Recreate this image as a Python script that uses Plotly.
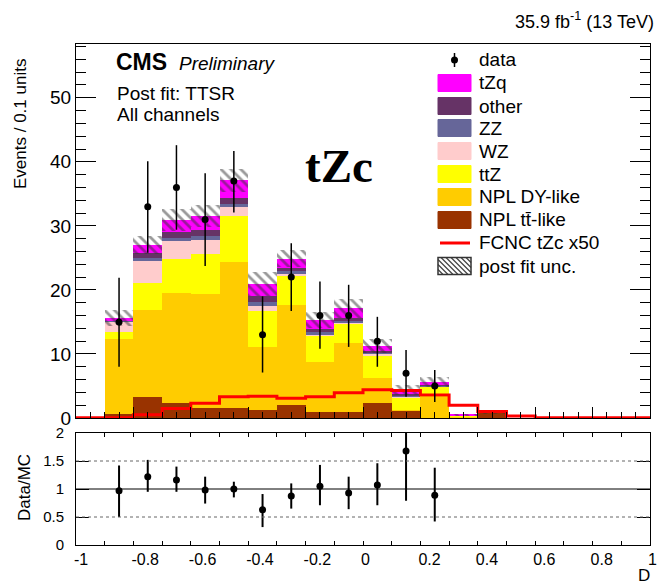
import plotly.graph_objects as go

# ---------------- data ----------------
bin_edges = [round(-1.0 + 0.1 * i, 1) for i in range(21)]

npl_tt = [0, 0.7, 3.3, 2.4, 1.5, 1.5, 1.25, 2.0, 0.9, 0.9, 2.3, 1.2, 0.0, 0.0, 0.85, 0, 0, 0, 0, 0]
npl_dy = [0, 11.6, 13.6, 17.1, 17.8, 22.8, 9.9, 15.7, 7.9, 10.8, 3.9, 0.1, 3.3, 0.2, 0, 0, 0, 0, 0, 0]
ttz    = [0, 1.2, 4.2, 5.3, 6.3, 7.2, 5.5, 4.6, 4.1, 3.0, 3.6, 1.9, 1.6, 0.25, 0, 0, 0, 0, 0, 0]
wz     = [0, 1.5, 3.4, 2.8, 2.2, 1.4, 0.9, 0.3, 0.2, 0.2, 0.2, 0.1, 0.05, 0, 0, 0, 0, 0, 0, 0]
zz     = [0, 0.15, 0.5, 0.5, 0.6, 0.5, 0.5, 0.3, 0.3, 0.3, 0.15, 0.15, 0.1, 0, 0, 0, 0, 0, 0, 0]
other  = [0, 0.15, 0.8, 1.0, 1.0, 0.9, 1.0, 0.5, 0.5, 0.4, 0.25, 0.35, 0.15, 0, 0, 0, 0, 0, 0, 0]
tzq    = [0, 0.3, 1.2, 1.8, 2.2, 2.8, 1.9, 1.5, 1.4, 1.5, 0.85, 0.55, 0.45, 0.05, 0.05, 0, 0, 0, 0, 0]
post_fit_unc = [0, 1.3, 1.4, 1.7, 1.7, 1.8, 1.9, 1.3, 1.2, 1.5, 1.05, 0.8, 0.8, 0.2, 0.2, 0, 0, 0, 0, 0]
fcnc_tzc_x50 = [0.05, 0.05, 0.5, 1.5, 2.3, 3.3, 3.4, 3.1, 3.3, 3.95, 4.4, 4.3, 3.6, 2.0, 1.0, 0.3, 0.05, 0.05, 0.05, 0.05]

data_counts = [0, 15, 33, 36, 31, 37, 13, 22, 16, 16, 12, 7, 5, 0, 0, 0, 0, 0, 0, 0]
data_err_up = [0, 6.9, 7.1, 6.6, 7.2, 4.7, 6.0, 5.3, 5.3, 4.8, 3.8, 3.6, 2.5, 0, 0, 0, 0, 0, 0, 0]
data_err_dn = [0, 7.0, 7.2, 6.6, 7.25, 4.9, 5.9, 5.3, 5.2, 4.9, 4.0, 3.7, 2.5, 0, 0, 0, 0, 0, 0, 0]

ratio_vals = [0, 0.97, 1.22, 1.16, 0.98, 1.0, 0.63, 0.875, 1.05, 0.93, 1.07, 1.68, 0.89, 0, 0, 0, 0, 0, 0, 0]
ratio_hi   = [0, 1.42, 1.52, 1.40, 1.22, 1.13, 0.91, 1.10, 1.43, 1.22, 1.46, 2.0, 1.38, 0, 0, 0, 0, 0, 0, 0]
ratio_lo   = [0, 0.5, 0.95, 0.95, 0.74, 0.85, 0.32, 0.65, 0.71, 0.64, 0.71, 0.79, 0.42, 0, 0, 0, 0, 0, 0, 0]

x_tick_vals = [-1, -0.8, -0.6, -0.4, -0.2, 0, 0.2, 0.4, 0.6, 0.8, 1]
x_tick_text = ["-1", "-0.8", "-0.6", "-0.4", "-0.2", "0", "0.2", "0.4", "0.6", "0.8", "1"]
ratio_tick_vals = [0, 0.5, 1, 1.5, 2]
ratio_tick_text = ["0", "0.5", "1", "1.5", "2"]

legend_labels = ["data", "tZq", "other", "ZZ", "WZ", "ttZ", "NPL DY-like",
                 "NPL tt\u0304-like", "FCNC tZc x50", "post fit unc."]

# ---------------- styles ----------------
FONT = "Liberation Sans, Arial, sans-serif"
stack = [  # bottom -> top
    ("NPL tt-like", npl_tt, "#993300"),
    ("NPL DY-like", npl_dy, "#FFCC00"),
    ("ttZ", ttz, "#FFFF00"),
    ("WZ", wz, "#FFCCCC"),
    ("ZZ", zz, "#666699"),
    ("other", other, "#663366"),
    ("tZq", tzq, "#FF00FF"),
]

centers = [round((bin_edges[i] + bin_edges[i + 1]) / 2, 3) for i in range(20)]
widths = [0.1] * 20

fig = go.Figure()

base = [0.0] * 20
for name, vals, col in stack:
    fig.add_trace(go.Bar(x=centers, y=vals, base=list(base), width=widths,
                         marker=dict(color=col, line=dict(width=0)),
                         name=name, showlegend=False, xaxis="x", yaxis="y"))
    base = [b + v for b, v in zip(base, vals)]
total = base

# hatched post-fit uncertainty
fig.add_trace(go.Bar(x=centers, y=[2 * u for u in post_fit_unc],
                     base=[t - u for t, u in zip(total, post_fit_unc)], width=widths,
                     marker=dict(color="rgba(0,0,0,0)", line=dict(width=0),
                                 pattern=dict(shape="\\", fgcolor="#333333",
                                              bgcolor="rgba(0,0,0,0)", size=7, solidity=0.4)),
                     showlegend=False, xaxis="x", yaxis="y"))

# FCNC signal step line
fig.add_trace(go.Scatter(x=bin_edges, y=fcnc_tzc_x50 + [fcnc_tzc_x50[-1]], mode="lines",
                         line=dict(color="#FF0000", width=3, shape="hv"),
                         showlegend=False, xaxis="x", yaxis="y"))

# data points
idx = [i for i in range(20) if data_counts[i] > 0]
fig.add_trace(go.Scatter(x=[centers[i] for i in idx], y=[data_counts[i] for i in idx],
                         mode="markers", marker=dict(color="black", size=7),
                         error_y=dict(type="data", symmetric=False,
                                      array=[data_err_up[i] for i in idx],
                                      arrayminus=[data_err_dn[i] for i in idx],
                                      color="black", thickness=1.5, width=0),
                         showlegend=False, xaxis="x", yaxis="y"))

# ratio
ridx = [i for i in range(20) if ratio_vals[i] > 0]
fig.add_trace(go.Scatter(x=[centers[i] for i in ridx], y=[ratio_vals[i] for i in ridx],
                         mode="markers", marker=dict(color="black", size=7),
                         error_y=dict(type="data", symmetric=False,
                                      array=[ratio_hi[i] - ratio_vals[i] for i in ridx],
                                      arrayminus=[ratio_vals[i] - ratio_lo[i] for i in ridx],
                                      color="black", thickness=2, width=0),
                         showlegend=False, xaxis="x2", yaxis="y2"))

# ---------------- layout ----------------
L, R, T, B = 76, 650, 44, 545
W, H = 658, 585


def px(X):
    return (X - L) / (R - L)


def py(Y):
    return (B - Y) / (B - T)


main_bottom = 418
ratio_top = 433

axis_common = dict(showline=True, linecolor="black", linewidth=1, showgrid=False,
                   zeroline=False, ticks="inside", tickcolor="black", automargin=False,
                   tickfont=dict(family=FONT, size=18, color="black"))

fig.update_layout(
    width=W, height=H,
    margin=dict(l=L, r=W - R, t=T, b=H - B, autoexpand=False),
    paper_bgcolor="white", plot_bgcolor="white",
    barmode="overlay", bargap=0,
    font=dict(family=FONT, color="black"),
    showlegend=False,
    xaxis=dict(axis_common, domain=[0, 1], anchor="y", range=[-1, 1], mirror=True,
               showticklabels=False, tick0=-1, dtick=0.2, ticklen=11,
               minor=dict(dtick=0.05, ticklen=6, ticks="inside", tickcolor="black")),
    yaxis=dict(axis_common, domain=[py(main_bottom), 1], anchor="x", range=[0, 58.4],
               mirror="ticks", tick0=0, dtick=10, ticklen=20,
               tickfont=dict(family=FONT, size=19, color="black"),
               minor=dict(dtick=2, ticklen=10, ticks="inside", tickcolor="black")),
    xaxis2=dict(axis_common, domain=[0, 1], anchor="y2", range=[-1, 1], mirror="ticks",
                tickvals=x_tick_vals, ticktext=x_tick_text, ticklen=4,
                ticklabelposition="outside right", ticklabeloverflow="allow",
                ticklabelshift=-3,
                tickfont=dict(family=FONT, size=16, color="black"),
                minor=dict(dtick=0.1, ticklen=4, ticks="inside", tickcolor="black")),
    yaxis2=dict(axis_common, domain=[0, py(ratio_top)], anchor="x2", range=[0, 2],
                mirror="ticks", tickvals=ratio_tick_vals, ticktext=ratio_tick_text,
                ticklen=13, ticklabelstandoff=8,
                tickfont=dict(family=FONT, size=15, color="black")),
)

shapes = []
# ratio reference lines
shapes.append(dict(type="line", xref="x2 domain", yref="y2", x0=0, x1=1, y0=1, y1=1,
                   line=dict(color="black", width=1)))
for yv in (0.5, 1.5):
    shapes.append(dict(type="line", xref="x2 domain", yref="y2", x0=0, x1=1, y0=yv, y1=yv,
                       line=dict(color="#666666", width=1, dash="dot")))

annotations = []


def text(t, X, Y, size, xanchor="left", family=FONT, angle=0):
    annotations.append(dict(text=t, x=px(X), y=py(Y), xref="paper", yref="paper",
                            xanchor=xanchor, yanchor="middle", showarrow=False,
                            textangle=angle,
                            font=dict(family=family, size=size, color="black")))


text("<b>CMS</b>", 114, 62, 23)
text("<i>Preliminary</i>", 177, 63, 19)
text("Post fit: TTSR", 115, 93, 19)
text("All channels", 115, 114, 19)
text("35.9 fb<sup>-1</sup> (13 TeV)", 656, 21, 18, xanchor="right")
text("<b>tZc</b>", 303, 166, 47, family="Liberation Serif, Times New Roman, serif")
text("Events / 0.1 units", 20, 124, 17, xanchor="center", angle=-90)
text("Data/MC", 24, 488, 17, xanchor="center", angle=-90)
text("D", 644, 575, 17, xanchor="center")

# custom legend
row_y = [60, 83, 106, 128, 151, 174, 197, 220, 243, 266]
sw_x0, sw_x1, sw_h = 438, 471, 17
legend_colors = [None, "#FF00FF", "#663366", "#666699", "#FFCCCC", "#FFFF00", "#FFCC00",
                 "#993300", None, None]
for k, (lab, cy) in enumerate(zip(legend_labels, row_y)):
    text(lab, 477, cy, 19)
    col = legend_colors[k]
    if col is not None:
        shapes.append(dict(type="rect", xref="paper", yref="paper",
                           x0=px(sw_x0), x1=px(sw_x1), y0=py(cy + sw_h / 2), y1=py(cy - sw_h / 2),
                           fillcolor=col, line=dict(color=col, width=1)))
    elif lab == "data":
        xm = (sw_x0 + sw_x1) / 2
        shapes.append(dict(type="line", xref="paper", yref="paper", x0=px(xm), x1=px(xm),
                           y0=py(cy - 7), y1=py(cy + 7), line=dict(color="black", width=1.5)))
        shapes.append(dict(type="circle", xref="paper", yref="paper",
                           x0=px(xm - 3.5), x1=px(xm + 3.5), y0=py(cy + 3.5), y1=py(cy - 3.5),
                           fillcolor="black", line=dict(color="black", width=0)))
    elif lab.startswith("FCNC"):
        shapes.append(dict(type="line", xref="paper", yref="paper", x0=px(sw_x0 + 2), x1=px(sw_x1 - 1),
                           y0=py(cy), y1=py(cy), line=dict(color="#FF0000", width=3)))
    else:
        y0p, y1p = cy - sw_h / 2, cy + sw_h / 2
        w, h = sw_x1 - sw_x0, sw_h
        d = -h
        while d < w:
            t0, t1 = max(0, -d), min(h, w - d)
            if t1 > t0:
                shapes.append(dict(type="line", xref="paper", yref="paper",
                                   x0=px(sw_x0 + d + t0), y0=py(y0p + t0),
                                   x1=px(sw_x0 + d + t1), y1=py(y0p + t1),
                                   line=dict(color="#444444", width=1.2)))
            d += 5
        shapes.append(dict(type="rect", xref="paper", yref="paper",
                           x0=px(sw_x0), x1=px(sw_x1), y0=py(y1p), y1=py(y0p),
                           fillcolor="rgba(0,0,0,0)", line=dict(color="#333333", width=1.5)))

fig.update_layout(shapes=shapes, annotations=annotations)
fig.write_html("out.html")
